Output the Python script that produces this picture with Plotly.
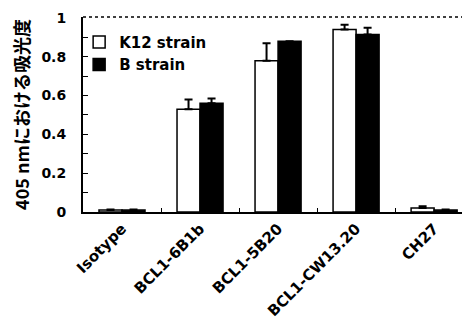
import plotly.graph_objects as go

categories = ["Isotype", "BCL1-6B1b", "BCL1-5B20", "BCL1-CW13.20", "CH27"]
k12_values = [0.01, 0.53, 0.78, 0.94, 0.02]
k12_errors = [0.003, 0.05, 0.09, 0.025, 0.01]
b_values = [0.01, 0.56, 0.88, 0.915, 0.01]
b_errors = [0.003, 0.025, 0.0, 0.035, 0.003]
y_ticks = [0, 0.2, 0.4, 0.6, 0.8, 1]
y_tick_labels = ["0", "0.2", "0.4", "0.6", "0.8", "1"]

font_main = "DejaVu Sans, Liberation Sans, sans-serif"

fig = go.Figure()
fig.add_trace(go.Bar(
    x=categories, y=k12_values, name="<b>K12 strain</b>",
    marker=dict(color="white", line=dict(color="black", width=1.5)),
    error_y=dict(type="data", symmetric=False, array=k12_errors,
                 arrayminus=[0] * len(k12_errors), color="black", thickness=2, width=4),
))
fig.add_trace(go.Bar(
    x=categories, y=b_values, name="<b>B strain</b>",
    marker=dict(color="black", line=dict(color="black", width=1.5)),
    error_y=dict(type="data", symmetric=False, array=b_errors,
                 arrayminus=[0] * len(b_errors), color="black", thickness=2, width=4),
))

minor_vals = [i / 10 for i in range(11)]
fig.update_layout(
    width=470, height=327,
    margin=dict(l=75, r=8, t=9, b=123),
    paper_bgcolor="white", plot_bgcolor="white",
    barmode="group", bargap=0.41, bargroupgap=0,
    font=dict(family=font_main, color="black", size=13),
    showlegend=True,
    legend=dict(x=-0.01, y=0.955, xanchor="left", yanchor="top",
                bgcolor="rgba(0,0,0,0)", font=dict(size=15, family=font_main),
                tracegroupgap=0, itemwidth=30),
    xaxis=dict(
        range=[-0.5, 4.46], showline=True, linecolor="black", linewidth=2,
        ticks="inside", tickson="boundaries", ticklen=4, tickcolor="black",
        tickangle=-45, automargin=False,
        tickvals=categories, ticktext=[f"<b>{c}</b>" for c in categories],
        tickfont=dict(size=15, family=font_main),
        showgrid=False, zeroline=False,
    ),
    yaxis=dict(
        range=[0, 1.005], showline=True, linecolor="black", linewidth=2,
        ticks="inside", ticklen=5, tickcolor="black", automargin=False,
        tickvals=minor_vals,
        ticktext=[("<b>%s</b>" % y_tick_labels[y_ticks.index(round(v, 1))]) if round(v, 1) in y_ticks else "" for v in minor_vals],
        tickfont=dict(size=14, family=font_main),
        ticklabelstandoff=12,
        showgrid=False, zeroline=False,
        title=dict(text="<b>405 nmにおける吸光度</b>",
                   font=dict(size=18, family="Noto Sans CJK JP"), standoff=10),
    ),
)

fig.add_shape(type="line", xref="paper", yref="paper", x0=0, x1=1, y0=1, y1=1,
              line=dict(color="black", width=1.5, dash="dot"))

fig.write_html("out.html")
